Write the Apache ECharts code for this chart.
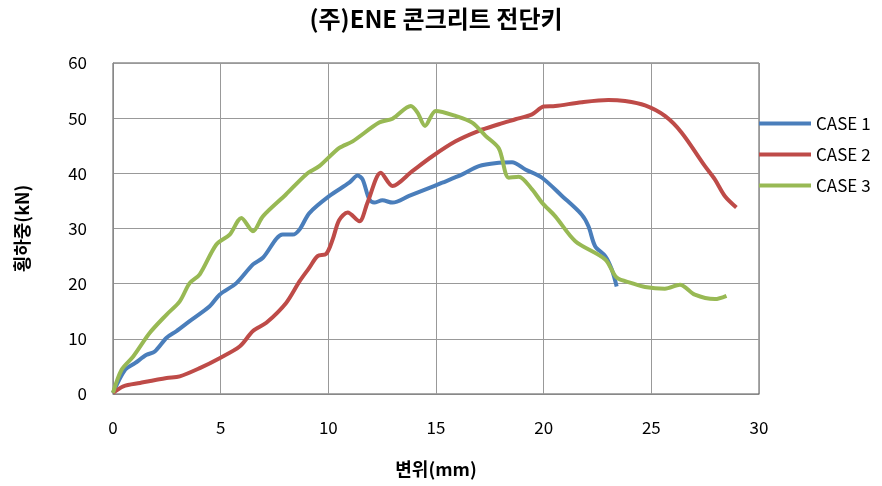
<!DOCTYPE html>
<html>
<head>
<meta charset="utf-8">
<script src="https://cdn.jsdelivr.net/npm/echarts@6/dist/echarts.min.js"></script>
<style>
  html, body { margin: 0; padding: 0; background: #fff; }
  #chart { width: 882px; height: 486px; }
</style>
</head>
<body>
<div id="chart"></div>
<script>
    // 범례 이름
    var caseNames = ['CASE 1', 'CASE 2', 'CASE 3'];
    var caseColors = ['#4a7ebb', '#be4b48', '#98b954'];

    // 변위(mm), 하중(kN)
    var case1 = [
        [0, 0.2], [0.56, 4.4], [1.02, 5.6], [1.56, 7.1], [1.94, 7.7], [2.49, 10.2], [2.95, 11.4],
        [3.56, 13.2], [4.49, 15.9], [4.95, 18.0], [5.73, 20.1], [6.5, 23.5], [6.96, 24.7],
        [7.88, 28.9], [8.35, 28.9], [8.66, 29.8], [9.12, 32.8], [10.05, 35.9], [10.97, 38.3],
        [11.36, 39.6], [11.59, 38.9], [11.9, 35.3], [12.13, 34.7], [12.51, 35.1], [12.98, 34.7],
        [13.75, 35.9], [14.52, 37.1], [15.29, 38.3], [16.22, 39.8], [16.99, 41.3], [17.92, 41.9],
        [18.53, 42.0], [19.15, 40.7], [19.92, 39.2], [20.85, 35.9], [21.77, 32.5], [22.08, 30.4],
        [22.39, 26.8], [22.86, 25.0], [23.16, 22.6], [23.39, 19.5]
    ];
    var case2 = [
        [0, 0.2], [0.48, 1.4], [1.25, 2.0], [2.49, 2.9], [3.1, 3.2], [4.03, 4.7], [4.95, 6.5],
        [5.88, 8.6], [6.5, 11.4], [7.12, 12.9], [8.04, 16.5], [8.66, 20.4], [9.12, 22.9],
        [9.5, 25.0], [9.9, 25.4], [10.2, 28.0], [10.5, 31.5], [10.9, 32.9], [11.44, 31.3],
        [11.82, 34.7], [12.44, 40.1], [12.98, 37.7], [13.9, 40.4], [14.83, 43.1], [15.91, 45.8],
        [16.99, 47.7], [17.92, 48.9], [18.69, 49.8], [19.46, 50.7], [20.0, 52.1], [20.54, 52.2],
        [21.77, 52.9], [23.0, 53.3], [23.78, 53.1], [24.71, 52.3], [25.63, 50.4], [26.4, 47.4],
        [27.49, 41.3], [27.95, 38.9], [28.41, 35.9], [28.95, 33.8]
    ];
    var case3 = [
        [0, 0.2], [0.4, 4.4], [0.94, 6.8], [1.71, 11.1], [2.49, 14.4], [3.1, 16.8], [3.56, 20.1],
        [4.03, 21.7], [4.8, 27.1], [5.42, 28.9], [5.96, 31.9], [6.5, 29.5], [6.96, 32.2],
        [8.04, 36.2], [8.97, 39.8], [9.58, 41.3], [10.51, 44.6], [11.13, 45.8], [12.36, 49.2],
        [12.98, 49.9], [13.83, 52.2], [14.14, 51.0], [14.49, 48.6], [14.99, 51.3], [15.91, 50.4],
        [16.68, 49.2], [17.3, 46.8], [17.92, 44.5], [18.38, 39.2], [18.84, 39.4], [19.46, 37.1],
        [19.92, 34.7], [20.54, 32.2], [21.47, 27.7], [22.86, 24.4], [23.39, 21.1], [24.09, 20.1],
        [24.71, 19.4], [25.63, 19.1], [26.33, 19.8], [27.02, 18.0], [27.95, 17.2], [28.49, 17.8]
    ];
    var caseData = [case1, case2, case3];

    var fontKr = '"Noto Sans CJK KR", "Noto Sans", sans-serif';

    var series = [];
    for (var i = 0; i < caseNames.length; i++) {
        series.push({
            name: caseNames[i],
            type: 'line',
            data: caseData[i],
            smooth: 0.3,
            symbol: 'none',
            lineStyle: {color: caseColors[i], width: 4},
            itemStyle: {color: caseColors[i]}
        });
    }

    var option = {
        animation: false,
        title: {
            text: '(주)ENE 콘크리트 전단키',
            left: 436,
            top: 7,
            padding: 0,
            textAlign: 'center',
            textStyle: {fontFamily: fontKr, fontSize: 24, fontWeight: 'bold', color: '#000'}
        },
        legend: {
            orient: 'vertical',
            left: 759,
            top: 115,
            padding: 0,
            itemWidth: 52,
            itemHeight: 4,
            itemGap: 14,
            icon: 'rect',
            data: caseNames,
            textStyle: {fontFamily: fontKr, fontSize: 17, color: '#000', lineHeight: 17}
        },
        grid: {
            left: 113, right: 123, top: 63, bottom: 92,
            show: true,
            borderColor: '#555',
            borderWidth: 1
        },
        xAxis: {
            type: 'value',
            min: 0, max: 30, interval: 5,
            name: '변위(mm)',
            nameLocation: 'middle',
            nameGap: 66,
            nameTextStyle: {fontFamily: fontKr, fontSize: 18, fontWeight: 'bold', color: '#000'},
            axisLine: {lineStyle: {color: '#888'}},
            axisTick: {show: false},
            axisLabel: {fontFamily: fontKr, fontSize: 17, color: '#000', margin: 25},
            splitLine: {lineStyle: {color: '#999', width: 1}}
        },
        yAxis: {
            type: 'value',
            min: 0, max: 60, interval: 10,
            name: '횡하중(kN)',
            nameLocation: 'middle',
            nameGap: 82,
            nameTextStyle: {fontFamily: fontKr, fontSize: 18, fontWeight: 'bold', color: '#000'},
            axisLine: {show: true, lineStyle: {color: '#888'}},
            axisTick: {show: false},
            axisLabel: {fontFamily: fontKr, fontSize: 17, color: '#000', margin: 26},
            splitLine: {lineStyle: {color: '#999', width: 1}}
        },
        series: series
    };

    var myChart = echarts.init(document.getElementById('chart'));
    myChart.setOption(option);
</script>
</body>
</html>
